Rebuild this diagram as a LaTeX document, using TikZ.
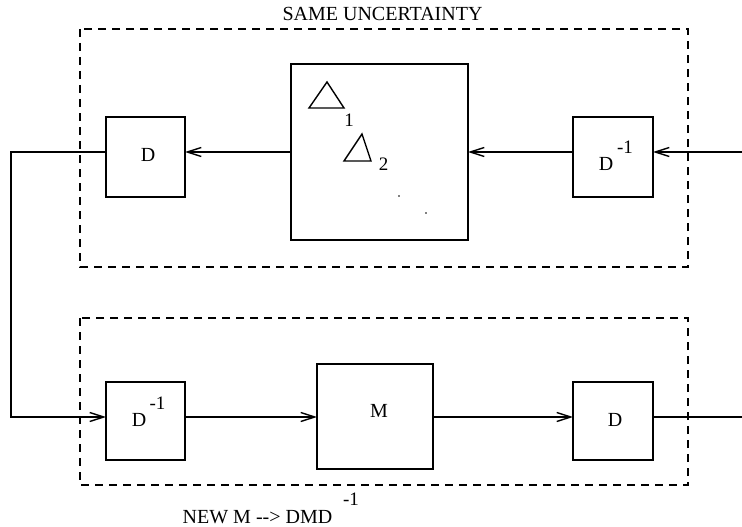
\documentclass[tikz,border=0pt]{standalone}
\usepackage{fontspec}
\setmainfont{Liberation Serif}[Ligatures=TeXOff]
\usetikzlibrary{arrows.meta}
\begin{document}
\begin{tikzpicture}[x=1pt,y=-1pt,
  lw/.style={line width=1.4pt},
  blk/.style={draw,lw,inner sep=0pt,outer sep=0pt},
  flow/.style={lw,-{Straight Barb[length=14pt,width=9pt]}},
  wire/.style={lw},
  dashbox/.style={line width=1.5pt,dash pattern=on 8pt off 6pt},
  lbl/.style={inner sep=0pt,anchor=base,font=\fontsize{20}{23}\selectfont},
  sublbl/.style={inner sep=0pt,anchor=base,font=\fontsize{19}{22}\selectfont}]
\useasboundingbox (0,0) rectangle (742,527);

% dashed frames of the two configurations
\draw[dashbox] (80,29) rectangle (688,267);
\draw[dashbox] (80,318) rectangle (688,485);
\node[lbl] (titleTop) at (382.5,21) {SAME UNCERTAINTY};
\node[lbl] (titleBot) at (257.5,523) {NEW M --> DMD};
\node[sublbl] (titleBotExp) at (351,505) {-1};

% signal rows
\coordinate (r1) at (0,152);
\coordinate (r2) at (0,417);
\coordinate (inR) at (742,152);
\coordinate (outR) at (742,417);
\coordinate (cornerTop) at (11,152);
\coordinate (cornerBot) at (11,417);

% upper row: D, structured uncertainty, D^-1
\node[blk,minimum width=79pt,minimum height=80pt] (dA) at (145.5,157) {};
\node[blk,minimum width=177pt,minimum height=176pt] (big) at (379.5,152) {};
\node[blk,minimum width=80pt,minimum height=80pt] (dB) at (613,157) {};

\node[lbl] (dAtxt) at (148,161) {D};
\node[lbl] (dBtxt) at (606,170) {D};
\node[sublbl] (dBexp) at (625,153) {-1};

% diagonal uncertainty blocks
\draw[lw,line join=miter] (309,108) -- (344,108) -- (327,82) -- cycle;
\draw[lw,line join=miter] (344,161) -- (371,161) -- (362,134) -- cycle;
\node[sublbl] (sub1) at (349,126) {1};
\node[sublbl] (sub2) at (383.5,170) {2};
\fill (399,196) circle (0.9);
\fill (426,213) circle (0.9);

% lower row: D^-1, M, D
\node[blk,minimum width=79pt,minimum height=78pt] (dC) at (145.5,421) {};
\node[blk,minimum width=116pt,minimum height=105pt] (mM) at (375,416.5) {};
\node[blk,minimum width=80pt,minimum height=78pt] (dD) at (613,421) {};

\node[lbl] (dCtxt) at (139,426) {D};
\node[sublbl] (dCexp) at (157.5,409) {-1};
\node[lbl] (mtxt) at (379,417) {M};
\node[lbl] (dDtxt) at (615,426) {D};

% connectors
\draw[flow] (inR) -- (dB.east |- r1);
\draw[flow] (dB.west |- r1) -- (big.east);
\draw[flow] (big.west) -- (dA.east |- r1);
\draw[flow] (dA.west |- r1) -- (cornerTop) -- (cornerBot) -- (dC.west |- r2);
\draw[flow] (dC.east |- r2) -- (mM.west |- r2);
\draw[flow] (mM.east |- r2) -- (dD.west |- r2);
\draw[wire] (dD.east |- r2) -- (outR);
\end{tikzpicture}
\end{document}
